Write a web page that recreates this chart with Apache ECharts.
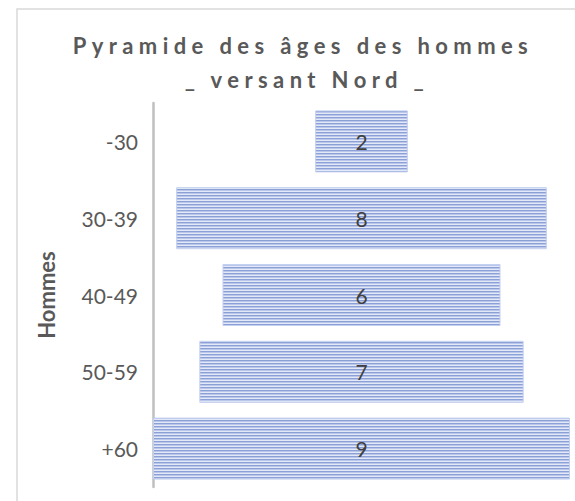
<!DOCTYPE html>
<html>
<head>
<meta charset="utf-8">
<style>
html,body{margin:0;padding:0;background:#fff;}
#chart{width:575px;height:501px;}
</style>
<script src="https://cdn.jsdelivr.net/npm/echarts@6/dist/echarts.min.js"></script>
</head>
<body>
<div id="chart"></div>
<script>
const categories = ['-30', '30-39', '40-49', '50-59', '+60'];
const values = [2, 8, 6, 7, 9];
const axisMax = 9;
const titleLines = ['Pyramide des âges des hommes', '_ versant Nord _'];
const axisName = 'Hommes';

const offsets = values.map(v => (axisMax - v) / 2);

function stripePattern() {
  const c = document.createElement('canvas');
  c.width = 8; c.height = 3;
  const ctx = c.getContext('2d');
  ctx.fillStyle = '#8ca0d8'; ctx.fillRect(0, 0, 8, 1);
  ctx.fillStyle = '#bac6ea'; ctx.fillRect(0, 1, 8, 1);
  ctx.fillStyle = '#e3e9f6'; ctx.fillRect(0, 2, 8, 1);
  return c;
}
const pattern = { image: stripePattern(), repeat: 'repeat' };

const titleStyle = { fontFamily: 'Lato, sans-serif', fontWeight: 'bold', fontSize: 22,
  fill: '#595959', align: 'center', verticalAlign: 'middle' };

const chart = echarts.init(document.getElementById('chart'), null, { renderer: 'svg' });
chart.setOption({
  animation: false,
  backgroundColor: '#fff',
  graphic: [
    { type: 'rect', shape: { x: 17, y: 9, width: 700, height: 700 },
      style: { fill: 'none', stroke: '#d9d9d9', lineWidth: 1.5 }, silent: true },
    { type: 'text', x: 303, y: 45, style: Object.assign({ text: titleLines[0] }, titleStyle) },
    { type: 'text', x: 307, y: 79, style: Object.assign({ text: titleLines[1] }, titleStyle) },
    { type: 'text', x: 46, y: 295, rotation: Math.PI / 2,
      style: { text: axisName, fontFamily: 'Lato, sans-serif', fontWeight: 'bold', fontSize: 22,
        fill: '#595959', align: 'center', verticalAlign: 'middle' } }
  ],
  grid: { left: 153, right: 5, top: 103, bottom: 14, containLabel: false },
  xAxis: { type: 'value', min: 0, max: axisMax, show: false },
  yAxis: {
    type: 'category', data: categories, inverse: true,
    axisLine: { show: true, lineStyle: { color: '#bfbfbf', width: 2.5 } },
    axisTick: { show: false },
    axisLabel: { fontFamily: 'Lato, sans-serif', fontSize: 21, color: '#595959', margin: 15 },
    splitLine: { show: false }
  },
  series: [
    { type: 'bar', stack: 'p', data: offsets, barWidth: 62,
      itemStyle: { color: 'rgba(0,0,0,0)' }, silent: true },
    { type: 'bar', stack: 'p', data: values, barWidth: 62,
      itemStyle: { color: pattern, borderColor: '#c3cfee', borderWidth: 1 },
      label: { show: true, position: 'inside', fontFamily: 'Lato, sans-serif', fontSize: 21, color: '#404040' } }
  ]
});

function spaceTitle() {
  document.querySelectorAll('#chart svg text').forEach(t => {
    const s = t.textContent;
    if (titleLines.indexOf(s) >= 0) {
      t.setAttribute('letter-spacing', '5.4');
      t.style.letterSpacing = '5.4px';
    }
  });
}
spaceTitle();
chart.on('finished', spaceTitle);
</script>
</body>
</html>
